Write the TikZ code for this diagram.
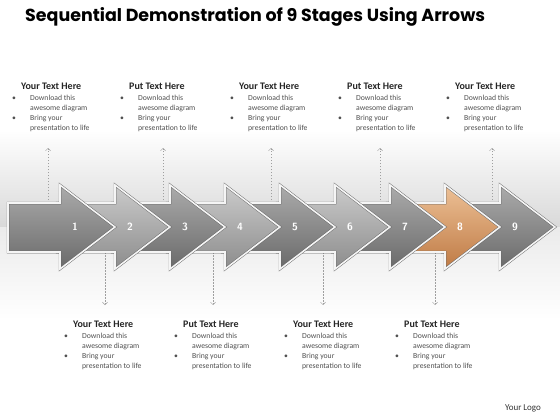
\documentclass[tikz,border=0pt]{standalone}
\usepackage{graphicx}
\usepackage{fontspec}
\setmainfont{Carlito}
\newfontfamily\titlefont{Poppins}
\usetikzlibrary{arrows.meta}
\definecolor{darkT}{HTML}{ABABAB}
\definecolor{darkB}{HTML}{6A6A6A}
\definecolor{liteT}{HTML}{CBCBCB}
\definecolor{liteB}{HTML}{8C8C8C}
\definecolor{orT}{HTML}{EDC197}
\definecolor{orB}{HTML}{BF7A44}
\definecolor{bodytext}{HTML}{505050}
\tikzset{
  hd/.style={font=\fontsize{10}{12}\selectfont\bfseries, text=black!85, inner sep=0pt},
  bt/.style={font=\fontsize{7.7}{10}\selectfont, text=bodytext, inner sep=0pt},
  num/.style={font=\fontsize{10.5}{12}\selectfont\bfseries\sffamily, text=white},
  rim/.style={draw=black!60, line width=0.45pt, double=gray!8, double distance=1.6pt, line join=miter},
  conn/.style={draw=gray!75, line width=0.5pt, dash pattern=on 1.5pt off 1.5pt, -{Straight Barb[length=2.5pt,width=5pt]}}
}
\newcommand\tblock[4]{%
  \node[hd, anchor=base west] (#1h) at (#2-9, #3) {#4};
  \node[bt, anchor=base west] (#1a) at (#2, #3+11) {Download this};
  \node[bt, anchor=base west] (#1b) at (#2, #3+21) {awesome diagram};
  \node[bt, anchor=base west] (#1c) at (#2, #3+31) {Bring your};
  \node[bt, anchor=base west] (#1d) at (#2, #3+41) {presentation to life};
  \node[bt, anchor=base] (#1p) at (#2-16, #3+11) {•};
  \node[bt, anchor=base] (#1q) at (#2-16, #3+31) {•};
}
\begin{document}
\begin{tikzpicture}[x=1pt,y=-1pt]
\useasboundingbox (0,0) rectangle (560,420);
% background
\fill[white] (0,0) rectangle (560,420);
\shade[top color=white, bottom color=black!15] (0,130) rectangle (560,227);
\shade[top color=black!8, bottom color=white] (0,227) rectangle (560,320);
% title
\node[anchor=west, inner sep=0pt] (title) at (25,17) {\resizebox{460pt}{!}{\titlefont\bfseries Sequential Demonstration of 9 Stages Using Arrows}};
% text blocks
\tblock{A}{30}{89.5}{Your Text Here}
\tblock{B}{138}{89.5}{Put Text Here}
\tblock{C}{248}{89.5}{Your Text Here}
\tblock{D}{356}{89.5}{Put Text Here}
\tblock{E}{464}{89.5}{Your Text Here}
\tblock{F}{82}{327.5}{Your Text Here}
\tblock{G}{192}{327.5}{Put Text Here}
\tblock{H}{302}{327.5}{Your Text Here}
\tblock{I}{413}{327.5}{Put Text Here}
% connector ends
\foreach \i/\x in {1/48,2/163,3/271,4/380,5/492}{
  \coordinate (us\i) at (\x,215);
  \coordinate (ue\i) at (\x,148);
}
\foreach \i/\x in {1/105,2/213,3/323,4/435}{
  \coordinate (ds\i) at (\x,240);
  \coordinate (de\i) at (\x,305);
}
\foreach \i in {1,...,5}{ \draw[conn] (us\i) -- (ue\i); }
\foreach \i in {1,...,4}{ \draw[conn] (ds\i) -- (de\i); }
% arrows, drawn from last to first
\foreach \k/\ct/\cb in {9/darkT/darkB,8/orT/orB,7/darkT/darkB,6/liteT/liteB,5/darkT/darkB,4/liteT/liteB,3/darkT/darkB,2/liteT/liteB,1/darkT/darkB}{
  \pgfmathsetmacro\hb{60+55*(\k-1)}
  \pgfmathsetmacro\tp{\hb+55}
  \pgfmathsetmacro\xs{\k==1 ? 8 : \hb-58}
  \path[top color=\ct, bottom color=\cb, rim]
    (\xs,203) -- (\hb,203) -- (\hb,185) -- (\tp,227) -- (\hb,269) -- (\hb,252) -- (\xs,252) -- cycle;
  \node[num] (n\k) at (\hb+15,227) {\k};
}
% logo
\node[font=\fontsize{9}{10}\selectfont, text=black!80, inner sep=0pt] (logo) at (523,408) {Your Logo};
\end{tikzpicture}
\end{document}
